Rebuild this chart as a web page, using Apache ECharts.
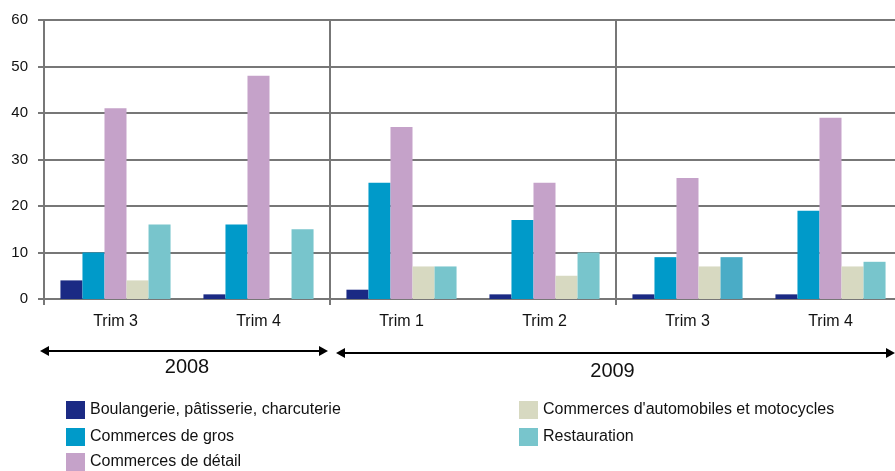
<!DOCTYPE html>
<html><head><meta charset="utf-8">
<script src="https://cdn.jsdelivr.net/npm/echarts@6/dist/echarts.min.js"></script>
<style>html,body{margin:0;padding:0;background:#fff;overflow:hidden;width:895px;height:471px}#c{width:910px;height:471px}</style>
</head><body><div id="c"></div>
<script>
const categories = ['Trim 3', 'Trim 4', 'Trim 1', 'Trim 2', 'Trim 3', 'Trim 4'];
const yearLabels = ['2008', '2009'];
const yearSpans = [[0, 2], [2, 6]];
const seriesNames = [
  'Boulangerie, pâtisserie, charcuterie',
  'Commerces de gros',
  'Commerces de détail',
  "Commerces d'automobiles et motocycles",
  'Restauration'
];
const boulangerie = [4, 1, 2, 1, 1, 1];
const gros = [10, 16, 25, 17, 9, 19];
const detail = [41, 48, 37, 25, 26, 39];
const automobiles = [4, null, 7, 5, 7, 7];
const restauration = [16, 15, 7, 10, 9, 8];
const yMin = 0, yMax = 60, yStep = 10;

const colors = ['#1b2a84', '#009ac9', '#c5a2c9', '#d7d9c1', '#78c5cc'];
const altRestaurationColor = '#4aacc6';
const values = [boulangerie, gros, detail, automobiles, restauration];

const chart = echarts.init(document.getElementById('c'), null, {renderer: 'canvas'});
const sans = '"Liberation Sans", Arial, sans-serif';
const visibleWidth = 895;

const series = seriesNames.map((name, i) => ({
  name: name,
  type: 'bar',
  barGap: '0%',
  barCategoryGap: '23%',
  itemStyle: {color: colors[i]},
  data: values[i].map((v, j) => (i === 4 && j === 4) ? {value: v, itemStyle: {color: altRestaurationColor}} : v)
}));

const legendText = {fontFamily: sans, fontSize: 16, color: '#111'};
// legend slots: [series index, left, top]
const legendSlots = [[0, 66, 401], [1, 66, 428], [2, 66, 453], [3, 519, 401], [4, 519, 428]];
const legends = legendSlots.map(s => ({
  left: s[1], top: s[2], padding: 0, orient: 'horizontal', icon: 'rect',
  itemWidth: 19, itemHeight: 18, data: [seriesNames[s[0]]], textStyle: legendText, selectedMode: false
}));

chart.setOption({
  animation: false,
  grid: {left: 44, top: 20, right: 8, bottom: 172, containLabel: false},
  xAxis: {
    type: 'category',
    data: categories,
    axisLine: {show: true, lineStyle: {color: '#777', width: 2}},
    axisTick: {show: true, interval: 1, length: 6, lineStyle: {color: '#777', width: 2}},
    splitLine: {show: true, interval: 1, lineStyle: {color: '#777', width: 2}},
    axisLabel: {fontFamily: sans, fontSize: 16, color: '#111', margin: 15}
  },
  yAxis: {
    type: 'value', min: yMin, max: yMax, interval: yStep,
    axisLine: {show: true, lineStyle: {color: '#777', width: 2}},
    axisTick: {show: true, length: 6, lineStyle: {color: '#777', width: 2}},
    splitLine: {show: true, lineStyle: {color: '#777', width: 2}},
    axisLabel: {fontFamily: sans, fontSize: 15, color: '#111', margin: 16}
  },
  legend: legends,
  series: series
});

// Year annotations positioned from the category axis
const c0 = chart.convertToPixel({xAxisIndex: 0}, 0);
const c1 = chart.convertToPixel({xAxisIndex: 0}, 1);
const band = c1 - c0;
const boundary = k => c0 - band / 2 + k * band;
const yPix = [351, 353];
const textY = [367, 371];
const graphics = [];
yearSpans.forEach((span, i) => {
  const xa = boundary(span[0]) - 4 + (i === 1 ? 10 : 0);
  const xb = Math.min(boundary(span[1]) - 2, visibleWidth);
  const y = yPix[i];
  const ah = 9, hw = 5;
  graphics.push({type: 'line', shape: {x1: xa + 2, y1: y, x2: xb - 2, y2: y}, style: {stroke: '#000', lineWidth: 2}});
  graphics.push({type: 'polygon', shape: {points: [[xa, y], [xa + ah, y - hw], [xa + ah, y + hw]]}, style: {fill: '#000'}});
  graphics.push({type: 'polygon', shape: {points: [[xb, y], [xb - ah, y - hw], [xb - ah, y + hw]]}, style: {fill: '#000'}});
  const mid = (boundary(span[0]) + Math.min(boundary(span[1]), visibleWidth)) / 2;
  graphics.push({type: 'text', x: mid, y: textY[i], style: {text: yearLabels[i], fontFamily: sans, fontSize: 20, fill: '#111', align: 'center', verticalAlign: 'middle'}});
});
chart.setOption({graphic: graphics});
</script>
</body></html>
